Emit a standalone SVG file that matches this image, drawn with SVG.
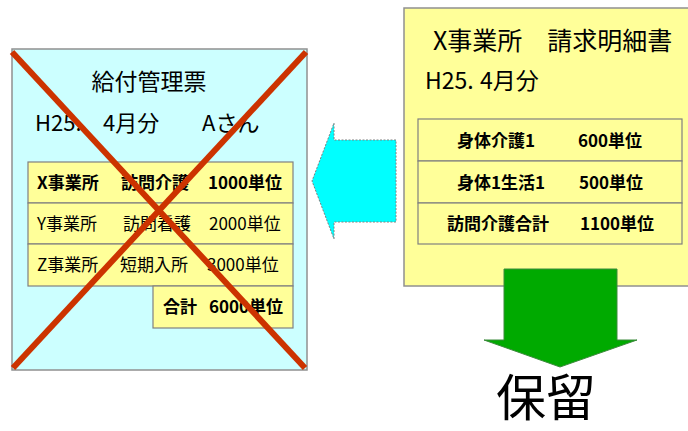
<svg xmlns="http://www.w3.org/2000/svg" width="688" height="431" viewBox="0 0 688 431">
<style>
text{font-family:"Noto Sans CJK JP","Liberation Sans",sans-serif;fill:#000}
.t{font-size:23px}
.m{font-size:22px}
.r{font-size:17px}
.b{font-weight:bold}
.cell{fill:#FFFF99;stroke:#808080;stroke-width:1.2}
</style>
<rect width="688" height="431" fill="#fff"/>
<g id="kyufu">
<rect x="12" y="49" width="295" height="321" fill="#CCFFFF" stroke="#909090" stroke-width="1.5"/>
<text class="t" x="149" y="90" text-anchor="middle">給付管理票</text>
<text class="m" x="35" y="131">H25.</text>
<text class="m" x="103" y="131">4月分</text>
<text class="m" x="202" y="131">Aさん</text>
<rect class="cell" x="28" y="162" width="265" height="41"/>
<rect class="cell" x="28" y="203" width="265" height="41"/>
<rect class="cell" x="28" y="244" width="265" height="42"/>
<rect class="cell" x="153" y="286" width="140" height="42"/>
<text class="r b" x="37" y="189">X事業所</text>
<text class="r b" x="121" y="189">訪問介護</text>
<text class="r b" x="208" y="189">1000単位</text>
<text class="r" x="37" y="230">Y事業所</text>
<text class="r" x="123" y="230">訪問看護</text>
<text class="r" x="209" y="230">2000単位</text>
<text class="r" x="37" y="271">Z事業所</text>
<text class="r" x="120" y="271">短期入所</text>
<text class="r" x="207" y="271">3000単位</text>
<text class="r b" x="163" y="313">合計</text>
<text class="r b" x="209" y="313">6000単位</text>
<g stroke="#CC3300" stroke-width="6" stroke-linecap="butt">
<line x1="12" y1="52" x2="305" y2="368"/>
<line x1="306" y1="52" x2="13" y2="368"/>
</g>
</g>
<g id="seikyu">
<rect x="404" y="8" width="290" height="278" fill="#FFFF99" stroke="#909090" stroke-width="1.5"/>
<text class="t" x="433" y="50" style="font-size:25px">X事業所　請求明細書</text>
<text class="m" x="425" y="89" style="font-size:23px">H25.</text>
<text class="m" x="480" y="89" style="font-size:23px">4月分</text>
<rect class="cell" x="418" y="119" width="264" height="42"/>
<rect class="cell" x="418" y="161" width="264" height="42"/>
<rect class="cell" x="418" y="203" width="264" height="41"/>
<text class="r b" x="457" y="147">身体介護1</text>
<text class="r b" x="578" y="147">600単位</text>
<text class="r b" x="457" y="189">身体1生活1</text>
<text class="r b" x="579" y="189">500単位</text>
<text class="r b" x="447" y="230">訪問介護合計</text>
<text class="r b" x="580" y="230">1100単位</text>
</g>
<g id="connectors">
<polygon points="396,140 334,140 334,123 312,181 334,239 334,222 396,222" fill="#00FFFF" stroke="#808080" stroke-width="1" stroke-dasharray="2,1.5"/>
<polygon points="504,269 617,269 617,340 637,340 560,367 484,340 504,340" fill="#00AA00" stroke="#3C8A3C" stroke-width="1"/>
</g>
<g id="horyu">
<text x="496" y="416" style="font-size:50px">保留</text>
</g>
</svg>
